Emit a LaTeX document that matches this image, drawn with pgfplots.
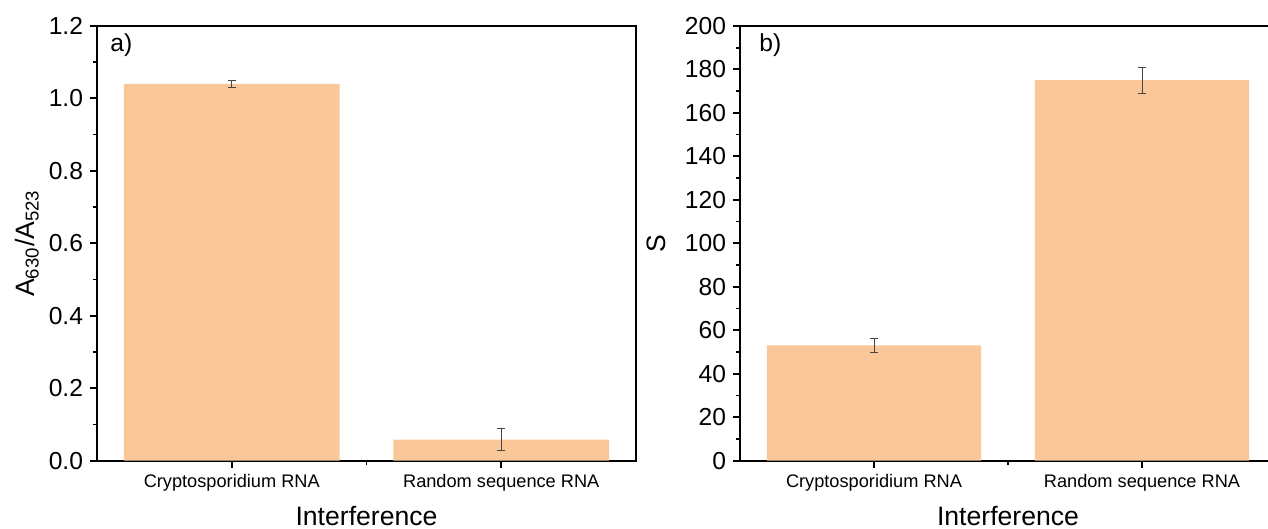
\documentclass[border=0pt]{standalone}
\usepackage{fontspec}
\setmainfont{Liberation Sans}
\usepackage{pgfplots}
\pgfplotsset{compat=1.18}
\definecolor{barc}{RGB}{249,199,152}
\definecolor{errc}{RGB}{70,70,70}
\begin{document}
\begin{tikzpicture}
\useasboundingbox (0,0) rectangle (634bp,264.5bp);
\pgfplotsset{
  common/.style={
    scale only axis, height=217.4bp,
    xmin=0.5, xmax=2.5, ymin=0,
    xtick={1,2},
    xticklabels={Cryptosporidium RNA, Random sequence RNA},
    minor x tick num=1,
    axis line style={line width=0.9bp},
    every tick/.style={line width=0.9bp, black},
    tick align=outside, major tick length=3.5bp, minor tick length=2bp,
    xtick pos=bottom, ytick pos=left,
    /pgf/number format/assume math mode=true,
    xticklabel style={font=\fontsize{9.1bp}{10bp}\selectfont},
    yticklabel style={font=\fontsize{12.3bp}{14bp}\selectfont},
    label style={font=\fontsize{13.3bp}{15bp}\selectfont},
    xlabel={Interference},
    xlabel style={at={(axis description cs:0.5,-0.15)}, anchor=base},
  },
  barplot/.style={ybar, bar width=0.8, fill=barc, draw=none,
    error bars/.cd, y dir=both, y explicit,
    error bar style={errc, line width=0.5bp},
    error mark options={errc, line width=0.5bp, mark size=2bp, rotate=90}},
}
\begin{axis}[common, width=269.5bp, at={(48.5bp,34.15bp)}, anchor=south west,
  ymax=1.2, ytick distance=0.2, minor y tick num=1,
  yticklabel style={/pgf/number format/.cd, fixed, fixed zerofill, precision=1},
  ylabel={A\textsubscript{630}/A\textsubscript{523}},
  ylabel style={at={(axis description cs:-0.13,0.5)}, anchor=center},
]
\addplot[barplot] coordinates {(1,1.04) +- (0,0.01) (2,0.058) +- (0,0.03)};
\node[anchor=base west, inner sep=0, font=\fontsize{12.3bp}{14bp}\selectfont]
  at (rel axis cs:0,1) [xshift=6.5bp, yshift=-13bp] {a)};
\end{axis}
\begin{axis}[common, width=268bp, at={(370bp,34.15bp)}, anchor=south west,
  ymax=200, ytick distance=20, minor y tick num=1,
  ylabel={S},
  ylabel style={at={(axis description cs:-0.157,0.5)}, anchor=center},
]
\addplot[barplot] coordinates {(1,53) +- (0,3) (2,175) +- (0,6)};
\node[anchor=base west, inner sep=0, font=\fontsize{12.3bp}{14bp}\selectfont]
  at (rel axis cs:0,1) [xshift=9.5bp, yshift=-13bp] {b)};
\end{axis}
\end{tikzpicture}
\end{document}
